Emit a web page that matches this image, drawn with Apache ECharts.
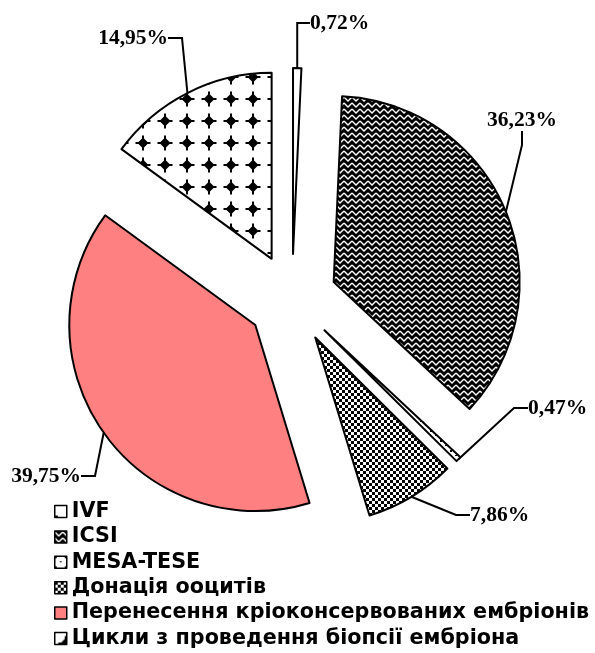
<!DOCTYPE html>
<html><head><meta charset="utf-8">
<script src="https://cdn.jsdelivr.net/npm/echarts@6/dist/echarts.min.js"></script>
<style>html,body{margin:0;padding:0;background:#fff}#c{width:595px;height:653px}</style>
</head><body><div id="c"></div>
<script>
// ---- data ----
const categories = ['IVF', 'ICSI', 'MESA-TESE', 'Донація ооцитів', 'Перенесення кріоконсервованих ембріонів', 'Цикли з проведення біопсії ембріона'];
const values = [0.72, 36.23, 0.47, 7.86, 39.75, 14.95];
const valueLabels = ['0,72%', '36,23%', '0,47%', '7,86%', '39,75%', '14,95%'];

// ---- patterns ----
function tile(w, h, draw) {
  const c = document.createElement('canvas');
  c.width = w; c.height = h;
  const ctx = c.getContext('2d');
  draw(ctx, w, h);
  return { image: c, repeat: 'repeat' };
}
const fills = [
  tile(22, 22, (g) => { g.fillStyle = '#fff'; g.fillRect(0, 0, 22, 22); g.fillStyle = '#000'; g.fillRect(0, 10, 3, 2); }),
  tile(8, 6, (g) => {
    g.fillStyle = '#000'; g.fillRect(0, 0, 8, 6);
    g.strokeStyle = '#fff'; g.lineWidth = 1.4;
    for (const oy of [-6, 0, 6]) {
      g.beginPath(); g.moveTo(0, oy + 1); g.lineTo(4, oy + 5); g.lineTo(8, oy + 1); g.stroke();
    }
  }),
  tile(10, 10, (g) => { g.fillStyle = '#fff'; g.fillRect(0, 0, 10, 10); g.fillStyle = '#000'; g.fillRect(0, 0, 2, 2); g.fillRect(5, 5, 2, 1); }),
  tile(6, 6, (g) => { g.fillStyle = '#fff'; g.fillRect(0, 0, 6, 6); g.fillStyle = '#000'; g.fillRect(0, 0, 3, 3); g.fillRect(3, 3, 3, 3); }),
  '#FF8080',
  tile(22, 22, (g) => {
    g.fillStyle = '#fff'; g.fillRect(0, 0, 22, 22);
    g.fillStyle = '#000';
    g.beginPath(); g.moveTo(11, 5.5); g.lineTo(16.5, 11); g.lineTo(11, 16.5); g.lineTo(5.5, 11); g.closePath(); g.fill();
    g.fillRect(10, 3.5, 2, 15); g.fillRect(3.5, 10, 15, 2);
  })
];

// ---- layout config ----
const pieCenter = [292, 299];
const pieRadius = 186;
const explode = 45;
const labelPlaces = [
  { x: 310, y: 23, align: 'left' },
  { x: 522, y: 120, align: 'center' },
  { x: 528, y: 408, align: 'left' },
  { x: 470, y: 515, align: 'left' },
  { x: 81, y: 476, align: 'right' },
  { x: 168, y: 38, align: 'right' }
];

// each slice is exploded along its own bisector (angles come from the data)
const total = values.reduce((a, b) => a + b, 0);
let cum = 0;
const sliceCenters = values.map((v) => {
  const mid = (cum + v / 2) / total * 2 * Math.PI;
  cum += v;
  return [pieCenter[0] + explode * Math.sin(mid), pieCenter[1] - explode * Math.cos(mid)];
});

const series = values.map((_, i) => ({
  type: 'pie',
  center: sliceCenters[i],
  radius: pieRadius,
  startAngle: 90,
  clockwise: true,
  silent: true,
  avoidLabelOverlap: false,
  emphasis: { disabled: true },
  label: {
    show: true,
    formatter: (p) => valueLabels[p.dataIndex],
    fontFamily: 'Liberation Serif', fontWeight: 'bold', fontSize: 21.5, color: '#000'
  },
  labelLine: { show: true, length: 10, length2: 14, lineStyle: { color: '#000', width: 2 } },
  labelLayout: (p) => (p.dataIndex === i ? Object.assign({ verticalAlign: 'middle' }, labelPlaces[i]) : {}),
  data: categories.map((n, j) => (j === i
    ? { name: n, value: values[j], itemStyle: { color: fills[j], borderColor: '#000', borderWidth: 2 } }
    : { name: n, value: values[j], itemStyle: { color: 'rgba(0,0,0,0)', borderWidth: 0 }, label: { show: false }, labelLine: { show: false } }))
}));

const chart = echarts.init(document.getElementById('c'), null, { renderer: 'canvas' });
chart.setOption({
  animation: false,
  backgroundColor: '#fff',
  legend: {
    orient: 'vertical',
    left: 54, top: 501, padding: 0,
    itemWidth: 12, itemHeight: 12, itemGap: 4.4,
    selectedMode: false,
    textStyle: { fontFamily: 'DejaVu Sans', fontWeight: 'bold', fontSize: 20.7, color: '#000' },
    data: categories.map((n, i) => ({ name: n, icon: 'rect', itemStyle: { color: fills[i], borderColor: '#000', borderWidth: 1.5 } }))
  },
  series: series
});
</script>
</body></html>
